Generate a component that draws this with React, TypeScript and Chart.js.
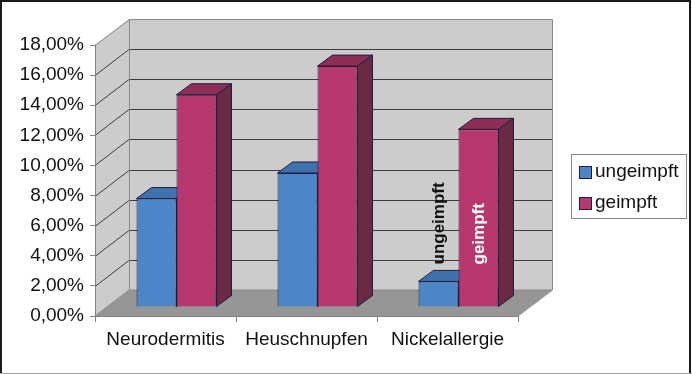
import React, { useEffect, useRef } from "react";
import { Chart, registerables } from "chart.js";

Chart.register(...registerables);

const categories = ["Neurodermitis", "Heuschnupfen", "Nickelallergie"];
const seriesNames = ["ungeimpft", "geimpft"];
const ungeimpft = [7.2, 8.9, 1.7];
const geimpft = [14.1, 16.0, 11.8];
const yTicksMax = 18;
const yTickStep = 2;
const labelledCategory = 2;

const FONT = "'Liberation Sans', Arial, sans-serif";
const frontColors = ["#4D86C6", "#B6386F"];
const topColors = ["#3F71AE", "#8E2D57"];
const sideColors = ["#2F5583", "#6A2945"];
const edgeColor = "#1E1E3A";

// 3D geometry (pixels)
const WALL_DX = 34;
const WALL_DY = -26;
const BAR_PLANE_DX = 11;
const BAR_PLANE_DY = -9;
const BAR_DX = 15;
const BAR_DY = -11;

const fmt = (v: number) => v.toFixed(2).replace(".", ",") + "%";

const threeD = {
  id: "threeD",
  beforeDraw(chart: any) {
    const { ctx, scales } = chart;
    const x = scales.x;
    const y = scales.y;
    const L = x.left;
    const R = x.right;
    const B = y.getPixelForValue(0);
    const T = y.getPixelForValue(yTicksMax);
    ctx.save();
    ctx.fillStyle = "#ffffff";
    ctx.fillRect(0, 0, chart.width, chart.height);
    // back wall
    ctx.fillStyle = "#CCCCCC";
    ctx.fillRect(L + WALL_DX, T + WALL_DY, R - L, B - T);
    // left wall
    ctx.beginPath();
    ctx.moveTo(L, T);
    ctx.lineTo(L + WALL_DX, T + WALL_DY);
    ctx.lineTo(L + WALL_DX, B + WALL_DY);
    ctx.lineTo(L, B);
    ctx.closePath();
    ctx.fillStyle = "#CCCCCC";
    ctx.fill();
    // floor
    ctx.beginPath();
    ctx.moveTo(L, B);
    ctx.lineTo(L + WALL_DX, B + WALL_DY);
    ctx.lineTo(R + WALL_DX, B + WALL_DY);
    ctx.lineTo(R, B);
    ctx.closePath();
    ctx.fillStyle = "#969696";
    ctx.fill();
    // gridlines
    ctx.lineWidth = 1;
    ctx.strokeStyle = "#3C3C3C";
    for (let v = yTickStep; v < yTicksMax; v += yTickStep) {
      const py = Math.round(y.getPixelForValue(v)) + 0.5;
      ctx.beginPath();
      ctx.moveTo(L, py);
      ctx.lineTo(L + WALL_DX, py + WALL_DY);
      ctx.lineTo(R + WALL_DX, py + WALL_DY);
      ctx.stroke();
    }
    // wall edges
    ctx.strokeStyle = "#8A8A8A";
    ctx.beginPath();
    ctx.moveTo(L, T + 0.5);
    ctx.lineTo(L + WALL_DX + 0.5, T + WALL_DY + 0.5);
    ctx.lineTo(R + WALL_DX + 0.5, T + WALL_DY + 0.5);
    ctx.lineTo(R + WALL_DX + 0.5, B + WALL_DY);
    ctx.lineTo(R, B);
    ctx.moveTo(L + WALL_DX + 0.5, T + WALL_DY);
    ctx.lineTo(L + WALL_DX + 0.5, B + WALL_DY);
    ctx.lineTo(R + WALL_DX, B + WALL_DY);
    ctx.moveTo(L + WALL_DX, B + WALL_DY);
    ctx.lineTo(L, B);
    ctx.stroke();
    ctx.restore();
  },
  // skip the default flat drawing; bars are drawn below in series order with 3D faces
  beforeDatasetDraw() {
    return false;
  },
  afterDatasetsDraw(chart: any) {
    const { ctx } = chart;
    ctx.save();
    ctx.translate(BAR_PLANE_DX, BAR_PLANE_DY);
    chart.data.datasets.forEach((_ds: any, i: number) => {
      const meta = chart.getDatasetMeta(i);
      meta.data.forEach((el: any) => {
        el.draw(ctx);
        const p = el.getProps(["x", "y", "base", "width"], true);
        const l = p.x - p.width / 2;
        const r = p.x + p.width / 2;
        const t = p.y;
        const b = p.base;
        ctx.lineWidth = 1;
        ctx.strokeStyle = edgeColor;
        ctx.lineJoin = "round";
        // top face
        ctx.beginPath();
        ctx.moveTo(l, t);
        ctx.lineTo(l + BAR_DX, t + BAR_DY);
        ctx.lineTo(r + BAR_DX, t + BAR_DY);
        ctx.lineTo(r, t);
        ctx.closePath();
        ctx.fillStyle = topColors[i];
        ctx.fill();
        ctx.stroke();
        // side face
        ctx.beginPath();
        ctx.moveTo(r, t);
        ctx.lineTo(r + BAR_DX, t + BAR_DY);
        ctx.lineTo(r + BAR_DX, b + BAR_DY);
        ctx.lineTo(r, b);
        ctx.closePath();
        ctx.fillStyle = sideColors[i];
        ctx.fill();
        ctx.stroke();
      });
    });
    // series-name labels on the last category
    chart.data.datasets.forEach((ds: any, i: number) => {
      const el = chart.getDatasetMeta(i).data[labelledCategory];
      const p = el.getProps(["x", "base"], true);
      ctx.save();
      ctx.translate(p.x + 1, p.base - 42);
      ctx.rotate(-Math.PI / 2);
      ctx.font = `bold 17px ${FONT}`;
      ctx.fillStyle = i === 0 ? "#111111" : "#ffffff";
      ctx.textAlign = "left";
      ctx.textBaseline = "middle";
      ctx.fillText(ds.label, 0, 0);
      ctx.restore();
    });
    ctx.restore();
  },
  afterDraw(chart: any) {
    const { ctx } = chart;
    ctx.save();
    // legend
    ctx.strokeStyle = "#8A8A8A";
    ctx.lineWidth = 1;
    ctx.strokeRect(571.5, 154.5, 115, 64);
    ctx.font = `19px ${FONT}`;
    ctx.textBaseline = "middle";
    ctx.textAlign = "left";
    chart.data.datasets.forEach((ds: any, i: number) => {
      const yy = 166 + i * 31;
      ctx.fillStyle = frontColors[i];
      ctx.fillRect(579.5, yy + 0.5, 12, 12);
      ctx.strokeStyle = edgeColor;
      ctx.strokeRect(579.5, yy + 0.5, 12, 12);
      ctx.fillStyle = "#111111";
      ctx.fillText(ds.label, 595, yy + 6);
    });
    // outer frame
    ctx.strokeStyle = "#1A1A1A";
    ctx.lineWidth = 2;
    ctx.beginPath();
    ctx.moveTo(1, chart.height);
    ctx.lineTo(1, 1);
    ctx.lineTo(chart.width - 2, 1);
    ctx.lineTo(chart.width - 2, chart.height);
    ctx.stroke();
    ctx.strokeStyle = "#A0A0A0";
    ctx.lineWidth = 1;
    ctx.beginPath();
    ctx.moveTo(0, chart.height - 0.5);
    ctx.lineTo(chart.width, chart.height - 0.5);
    ctx.stroke();
    ctx.restore();
  },
};

export default function App() {
  const ref = useRef<HTMLCanvasElement | null>(null);
  useEffect(() => {
    if (!ref.current) return;
    const chart = new Chart(ref.current, {
      type: "bar",
      data: {
        labels: categories,
        datasets: [
          {
            label: seriesNames[0],
            data: ungeimpft,
            backgroundColor: frontColors[0],
            borderColor: edgeColor,
            borderWidth: 1,
            barPercentage: 1,
            categoryPercentage: 0.567,
          },
          {
            label: seriesNames[1],
            data: geimpft,
            backgroundColor: frontColors[1],
            borderColor: edgeColor,
            borderWidth: 1,
            barPercentage: 1,
            categoryPercentage: 0.567,
          },
        ],
      },
      options: {
        animation: false,
        responsive: true,
        maintainAspectRatio: false,
        layout: { padding: { left: 0, top: 45, right: 174, bottom: 0 } },
        plugins: {
          legend: { display: false },
          tooltip: { enabled: false },
        },
        scales: {
          x: {
            grid: {
              display: true,
              drawOnChartArea: false,
              drawTicks: true,
              tickLength: 6,
              offset: true,
              color: "#808080",
            },
            border: { display: true, color: "#808080" },
            ticks: {
              font: { family: FONT, size: 19 },
              color: "#111111",
              padding: 6,
              maxRotation: 0,
            },
            afterFit: (s: any) => {
              s.height = 58;
            },
          },
          y: {
            min: 0,
            max: yTicksMax,
            grid: {
              display: true,
              drawOnChartArea: false,
              drawTicks: true,
              tickLength: 5,
              color: "#808080",
            },
            border: { display: true, color: "#808080" },
            ticks: {
              stepSize: yTickStep,
              font: { family: FONT, size: 19 },
              color: "#111111",
              padding: 6,
              callback: (v: any) => fmt(Number(v)),
            },
            afterFit: (s: any) => {
              s.width = 95;
            },
          },
        },
      },
      plugins: [threeD],
    });
    return () => chart.destroy();
  }, []);
  return (
    <div style={{ position: "absolute", left: 0, top: 0, width: 692, height: 374 }}>
      <canvas ref={ref} />
    </div>
  );
}
